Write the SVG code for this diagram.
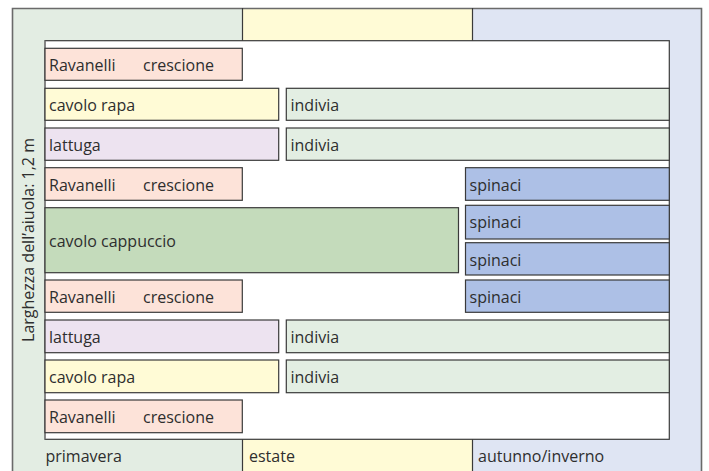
<svg xmlns="http://www.w3.org/2000/svg" width="709" height="471" viewBox="0 0 709 471">
<style>
.c{stroke:#3a3a3a;stroke-width:1.2}
.t{font-family:"Open Sans","Noto Sans","Liberation Sans",sans-serif;font-size:16px;fill:#2e2e2e}
.pk{fill:#fde3d9}.ye{fill:#fffbd6}.lv{fill:#ede3f0}.lg{fill:#e3eee3}.dg{fill:#c4dbbb}.bl{fill:#adc0e6}
</style>
<rect width="709" height="471" fill="#fff"/>
<g id="seasons">
<rect x="12.5" y="8" width="230" height="470" fill="#e3ede3"/>
<rect x="242.5" y="8" width="230" height="470" fill="#fffbd6"/>
<rect x="472.5" y="8" width="229.5" height="470" fill="#dfe5f3"/>
<path d="M12.5 480V8.5H701.5V480" fill="none" stroke="#6a6a6a" stroke-width="1.6"/>
<path d="M242.5 8V41M472.5 8V41M242.5 439V471M472.5 439V471" stroke="#3a3a3a" stroke-width="1.2"/>
</g>
<g id="bed">
<rect x="45" y="40.7" width="624.3" height="398.6" fill="#fff" stroke="#3a3a3a" stroke-width="1.2"/>
<path d="M45 40.7V439.3" stroke="#888" stroke-width="1.2"/>
</g>
<g id="row1"><rect class="c pk" x="45" y="48.3" width="197.3" height="32"/><text class="t" x="49" y="71">Ravanelli</text><text class="t" x="143" y="71">crescione</text></g>
<g id="row2"><rect class="c ye" x="45" y="88.3" width="233.7" height="32"/><text class="t" x="49" y="111">cavolo rapa</text>
<rect class="c lg" x="286.3" y="88.3" width="383" height="32"/><text class="t" x="290.5" y="111">indivia</text></g>
<g id="row3"><rect class="c lv" x="45" y="128" width="233.7" height="32.3"/><text class="t" x="49" y="151">lattuga</text>
<rect class="c lg" x="286.3" y="128" width="383" height="32.3"/><text class="t" x="290.5" y="151">indivia</text></g>
<g id="row4"><rect class="c pk" x="45" y="167.7" width="197.3" height="32.6"/><text class="t" x="49" y="191">Ravanelli</text><text class="t" x="143" y="191">crescione</text>
<rect class="c bl" x="465.5" y="167.7" width="203.8" height="32.6"/><text class="t" x="469.5" y="191">spinaci</text></g>
<g id="row5"><rect class="c dg" x="45" y="207.7" width="413.5" height="65"/><text class="t" x="49" y="246.5">cavolo cappuccio</text>
<rect class="c bl" x="465.5" y="205.3" width="203.8" height="33.7"/><text class="t" x="469.5" y="228">spinaci</text>
<rect class="c bl" x="465.5" y="242.7" width="203.8" height="32.3"/><text class="t" x="469.5" y="265.5">spinaci</text></g>
<g id="row6"><rect class="c pk" x="45" y="280" width="197.3" height="32.3"/><text class="t" x="49" y="303">Ravanelli</text><text class="t" x="143" y="303">crescione</text>
<rect class="c bl" x="465.5" y="280" width="203.8" height="32.3"/><text class="t" x="469.5" y="303">spinaci</text></g>
<g id="row7"><rect class="c lv" x="45" y="320" width="233.7" height="32.7"/><text class="t" x="49" y="343">lattuga</text>
<rect class="c lg" x="286.3" y="320" width="383" height="32.7"/><text class="t" x="290.5" y="343">indivia</text></g>
<g id="row8"><rect class="c ye" x="45" y="360" width="233.7" height="32.7"/><text class="t" x="49" y="383">cavolo rapa</text>
<rect class="c lg" x="286.3" y="360" width="383" height="32.7"/><text class="t" x="290.5" y="383">indivia</text></g>
<g id="row9"><rect class="c pk" x="45" y="400" width="197.3" height="32.7"/><text class="t" x="49" y="423">Ravanelli</text><text class="t" x="143" y="423">crescione</text></g>
<g id="labels">
<text class="t" x="45.5" y="462">primavera</text>
<text class="t" x="249" y="462">estate</text>
<text class="t" x="478" y="462">autunno/inverno</text>
<text class="t" transform="translate(33.5 240) rotate(-90)" text-anchor="middle">Larghezza dell’aiuola: 1,2 m</text>
</g>
</svg>
